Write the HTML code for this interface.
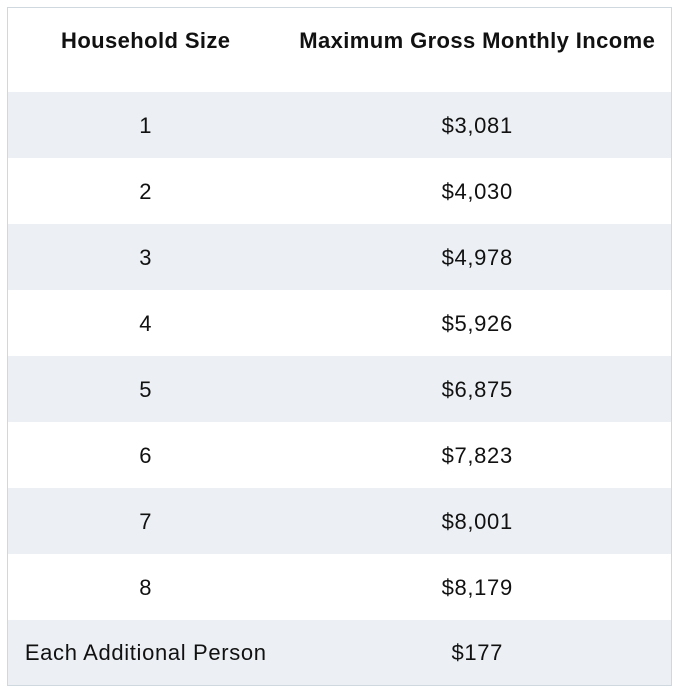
<!DOCTYPE html>
<html>
<head>
<meta charset="utf-8">
<style>
  html, body { margin: 0; padding: 0; background: #ffffff; }
  body { width: 681px; height: 697px; position: relative; overflow: hidden;
         font-family: "Liberation Sans", "DejaVu Sans", sans-serif; color: #111; }
  table { position: absolute; left: 7px; top: 7px; width: 665px;
          border-collapse: collapse; border: 1px solid #cfd7df; }
  th, td { text-align: center; padding: 0; font-size: 22px; }
  th { height: 84px; box-sizing: border-box; font-weight: bold; letter-spacing: 0.4px;
       vertical-align: top; padding-top: 20px; line-height: 26px; }
  td { height: 66px; letter-spacing: 0.65px; vertical-align: middle; padding-top: 2px; box-sizing: border-box; }
  tr.s td { background: #ecf0f4; }
  col.c1 { width: 276px; }
</style>
</head>
<body>
<table>
  <colgroup><col class="c1"><col></colgroup>
  <tr><th>Household Size</th><th>Maximum Gross Monthly Income</th></tr>
  <tr class="s"><td>1</td><td>$3,081</td></tr>
  <tr><td>2</td><td>$4,030</td></tr>
  <tr class="s"><td>3</td><td>$4,978</td></tr>
  <tr><td>4</td><td>$5,926</td></tr>
  <tr class="s"><td>5</td><td>$6,875</td></tr>
  <tr><td>6</td><td>$7,823</td></tr>
  <tr class="s"><td>7</td><td>$8,001</td></tr>
  <tr><td>8</td><td>$8,179</td></tr>
  <tr class="s"><td>Each Additional Person</td><td>$177</td></tr>
</table>
</body>
</html>
